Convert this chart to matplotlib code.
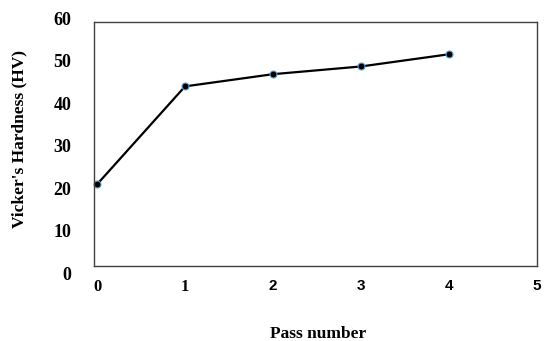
import matplotlib
matplotlib.use("Agg")
import matplotlib.pyplot as plt
import matplotlib.transforms as mtransforms

# data
pass_number = [0, 1, 2, 3, 4]
hardness = [20.1, 44.2, 47.2, 49.1, 52.1]

x_ticks = [0, 1, 2, 3, 4, 5]
y_ticks = [0, 10, 20, 30, 40, 50, 60]

fig = plt.figure(figsize=(5.44, 3.41), dpi=100)
ax = fig.add_axes([0.173, 0.22, 0.814, 0.715])

ax.plot(pass_number, hardness, color='black', lw=1.6, marker='o',
        markersize=5, markerfacecolor='black', markeredgecolor='#5b9bd5',
        markeredgewidth=0.8, clip_on=False)

ax.set_xlim(-0.034, 4.96)
ax.set_ylim(0, 60)
ax.set_xticks(x_ticks)
ax.set_yticks(y_ticks)
ax.tick_params(length=0)
ax.tick_params(axis='y', pad=16.5)
ax.tick_params(axis='x', pad=9.5)

ax.set_yticklabels([str(v) for v in y_ticks], fontfamily='Liberation Serif',
                   fontweight='bold', fontsize=13)
ax.set_xticklabels([str(v) for v in x_ticks], fontfamily='Liberation Sans',
                   fontweight='bold', fontsize=11)
for lab in ax.get_xticklabels()[:2]:
    lab.set_fontfamily('Liberation Serif')
    lab.set_fontsize(12)
# the tick labels are not clipped at the axes edge
for lab in ax.get_xticklabels():
    lab.set_clip_on(False)

# excel-style: y labels are spread slightly wider than the plot area
for v, lab in zip(y_ticks, ax.get_yticklabels()):
    dy = (0.193 * v - 7.5) / 100
    shift = mtransforms.ScaledTranslation(0, dy, fig.dpi_scale_trans)
    lab.set_transform(lab.get_transform() + shift)

for sp in ax.spines.values():
    sp.set_color('#404040')
    sp.set_linewidth(1.0)

fig.text(0.036, 0.592, "Vicker's Hardness (HV)", rotation=90, ha='center',
         va='center', fontfamily='Liberation Serif', fontweight='bold',
         fontsize=12.5)
fig.text(0.585, 0.02, 'Pass number', ha='center', va='center',
         fontfamily='Liberation Serif', fontweight='bold', fontsize=12.5)

fig.savefig('out.png', dpi=100)
